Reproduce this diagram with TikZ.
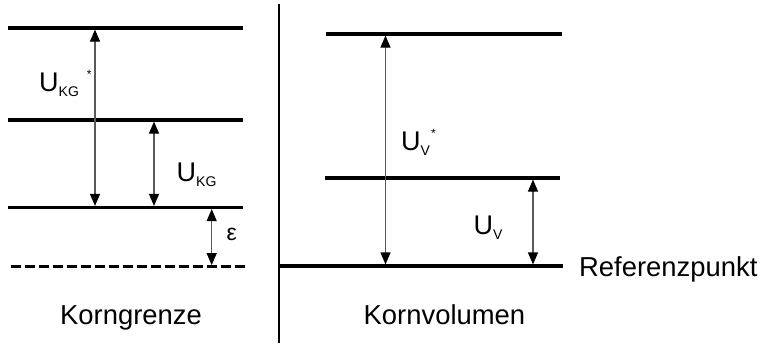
\documentclass[tikz,border=0pt]{standalone}
\usepackage{fontspec}
\setmainfont{Liberation Sans}
\usetikzlibrary{arrows.meta, positioning}
\tikzset{
  % Energieniveau
  niveau/.style={line width=3.2pt, black},
  niveau ref/.style={niveau, dash pattern=on 9.5pt off 4.5pt},
  % Trennlinie
  trenner/.style={line width=2.8pt, black},
  % Doppelpfeil fuer Abstaende
  abstand/.style={{Triangle[length=12pt, width=10pt, black]}-{Triangle[length=12pt, width=10pt, black]},
    line width=1.2pt, black!65, shorten >=1.6pt, shorten <=1.6pt},
  % Beschriftungen
  pot/.style={anchor=base west, inner sep=0pt, font=\fontsize{27}{30}\selectfont},
  titel/.style={anchor=base west, inner sep=0pt, font=\fontsize{27.4}{32}\selectfont},
}
\newcommand{\idx}[1]{\raisebox{-5pt}{\fontsize{14}{14}\selectfont #1}}
\newcommand{\stern}{\raisebox{13pt}{\fontsize{12}{12}\selectfont *}}

\begin{document}
\begin{tikzpicture}[x=1pt, y=-1pt]
  \useasboundingbox (0,0) rectangle (763,343);
  % Korngrenze
  \coordinate (kgA1) at (8,28);    \coordinate (kgB1) at (243,28);
  \coordinate (kgA2) at (8,120);   \coordinate (kgB2) at (243,120);
  \coordinate (kgA3) at (8,207.5); \coordinate (kgB3) at (243,207.5);
  \coordinate (kgA0) at (11,266.7);\coordinate (kgB0) at (246,266.7);
  \draw[niveau] (kgA1) -- (kgB1);
  \draw[niveau] (kgA2) -- (kgB2);
  \draw[niveau] (kgA3) -- (kgB3);
  \draw[niveau ref] (kgA0) -- (kgB0);
  % Trennlinie
  \coordinate (t1) at (279,4); \coordinate (t2) at (279,343);
  \draw[trenner] (t1) -- (t2);
  % Kornvolumen
  \coordinate (kvA1) at (326,34);  \coordinate (kvB1) at (562,34);
  \coordinate (kvA2) at (325,178); \coordinate (kvB2) at (560,178);
  \coordinate (kvA0) at (279,266); \coordinate (kvB0) at (563,266);
  \draw[niveau] (kvA1) -- (kvB1);
  \draw[niveau] (kvA2) -- (kvB2);
  \draw[niveau] (kvA0) -- (kvB0);
  % Pfeile
  \coordinate (p1o) at (95,28);     \coordinate (p1u) at (95,207.5);
  \coordinate (p2o) at (154,120);   \coordinate (p2u) at (154,207.5);
  \coordinate (p3o) at (211.7,207.5); \coordinate (p3u) at (211.7,266.7);
  \coordinate (p4o) at (385.5,34);  \coordinate (p4u) at (385.5,266);
  \coordinate (p5o) at (533,178);   \coordinate (p5u) at (533,266);
  \draw[abstand] (p1o) -- (p1u);
  \draw[abstand] (p2o) -- (p2u);
  \draw[abstand] (p3o) -- (p3u);
  \draw[abstand] (p4o) -- (p4u);
  \draw[abstand] (p5o) -- (p5u);
  % Beschriftungen
  \node[pot] (ukgs) at (39,91.7) {U\idx{KG}\hspace{8pt}\stern};
  \node[pot] (ukg) at (176.5,181.7) {U\idx{KG}};
  \node[pot] (uvs) at (401,150) {U\idx{V}\hspace{1pt}\stern};
  \node[pot] (uv) at (473.5,234) {U\idx{V}};
  \node[pot, font=\fontsize{23}{26}\selectfont] (eps) at (226.5,240) {ε};
  \node[titel] (ref) at (579,276.7) {Referenzpunkt};
  \node[titel] (kg) at (60,324) {Korngrenze};
  \node[titel] (kv) at (363.5,324) {Kornvolumen};
\end{tikzpicture}
\end{document}
